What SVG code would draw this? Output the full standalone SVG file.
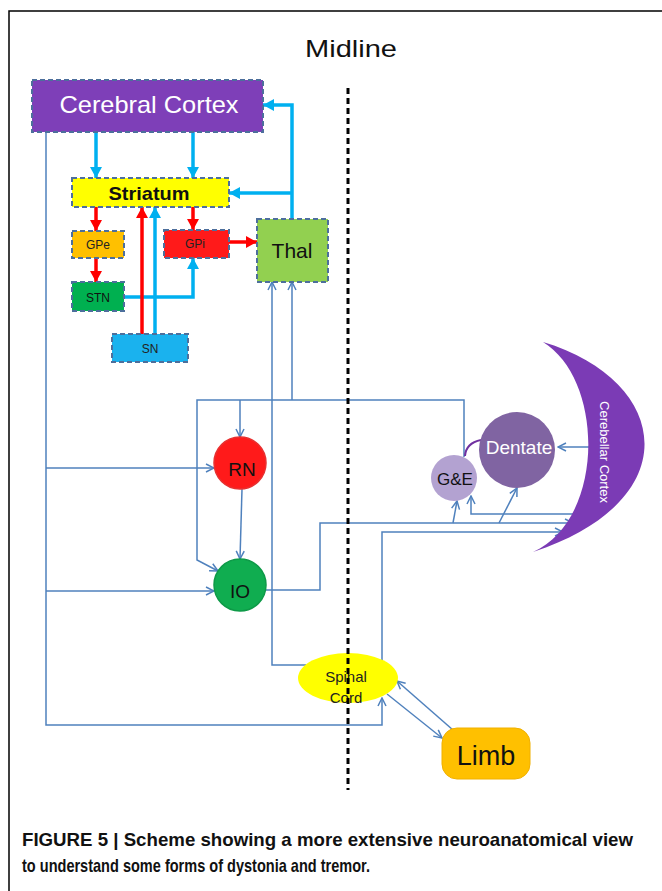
<svg xmlns="http://www.w3.org/2000/svg" width="662" height="891" viewBox="0 0 662 891">
<defs>
<style>
.box{stroke:#4d6f9c;stroke-width:2;stroke-dasharray:5 3}
.thin{fill:none;stroke:#4f81bd;stroke-width:1.5;marker-end:url(#ah)}
.cy{fill:none;stroke:#00b0f0;stroke-width:3.5;marker-end:url(#ac)}
.rd{fill:none;stroke:#ff0000;stroke-width:3.5;marker-end:url(#ar)}
.t{font-family:"Liberation Sans",Arial,sans-serif;text-anchor:middle}
</style>
<marker id="ah" markerUnits="userSpaceOnUse" markerWidth="10" markerHeight="10" viewBox="0 0 10 10" refX="9" refY="5" orient="auto">
<path d="M1,1 L9,5 L1,9" fill="none" stroke="#4f81bd" stroke-width="1.5"/>
</marker>
<marker id="ac" markerUnits="userSpaceOnUse" markerWidth="11" markerHeight="12" viewBox="0 0 11 12" refX="11" refY="6" orient="auto">
<path d="M0,0 L11,6 L0,12 z" fill="#00b0f0"/>
</marker>
<marker id="ar" markerUnits="userSpaceOnUse" markerWidth="11" markerHeight="12" viewBox="0 0 11 12" refX="11" refY="6" orient="auto">
<path d="M0,0 L11,6 L0,12 z" fill="#ff0000"/>
</marker>
</defs>
<rect x="0" y="0" width="662" height="891" fill="#ffffff"/>
<path d="M9,891 V11 H662" fill="none" stroke="#000" stroke-width="1.5"/>
<text class="t" x="351" y="57" font-size="24" textLength="92" lengthAdjust="spacingAndGlyphs" fill="#111">Midline</text>

<g id="connectors">
<path class="cy" d="M96,132 V178"/>
<path class="cy" d="M193,132 V178"/>
<path class="cy" d="M292,219 V105 H263"/>
<path class="cy" d="M292,193 H229"/>
<path class="cy" d="M124,297 H193 V258"/>
<path class="cy" d="M155,334 V207"/>
<path class="rd" d="M142,334 V207"/>
<path class="rd" d="M96,207 V231"/>
<path class="rd" d="M193,207 V230"/>
<path class="rd" d="M96,258 V282"/>
<path class="rd" d="M229,242 H257"/>
<path class="thin" d="M46,132 V725 H382 V698"/>
<path class="thin" d="M46,468 H214"/>
<path class="thin" d="M46,591 H214"/>
<path class="thin" d="M464,457 V400 H197 V560 L218,571"/>
<path class="thin" d="M240,400 V437"/>
<path class="thin" d="M292,400 V282"/>
<path class="thin" d="M306,665 H272 V282"/>
<path class="thin" d="M242,489 L240,559"/>
<path class="thin" d="M266,590 H320 V523 H573"/>
<path class="thin" d="M453,523 L457,501"/>
<path class="thin" d="M499,523 L517,488"/>
<path class="thin" d="M573,514 H471 V496"/>
<path class="thin" d="M382,661 V532 H563"/>
<path class="thin" d="M593,447 H558"/>
<path class="thin" d="M453,730 L397,681"/>
<path class="thin" d="M387,694 L442,738"/>
<path d="M465,456 Q466,443 481,440" fill="none" stroke="#7030a0" stroke-width="2"/>
</g>

<g id="cerebral-cortex">
<rect class="box" x="32" y="80" width="231" height="52" fill="#7e3fb8"/>
<text class="t" x="149" y="113" font-size="24" textLength="179" lengthAdjust="spacingAndGlyphs" fill="#fff">Cerebral Cortex</text>
</g>
<g id="striatum">
<rect class="box" x="72" y="178" width="157" height="29" fill="#ffff00"/>
<text class="t" x="149" y="200" font-size="19" font-weight="bold" textLength="81" lengthAdjust="spacingAndGlyphs" fill="#111">Striatum</text>
</g>
<g id="gpe">
<rect class="box" x="72" y="231" width="52" height="27" fill="#ffc000"/>
<text class="t" x="98" y="249" font-size="12" fill="#222">GPe</text>
</g>
<g id="gpi">
<rect class="box" x="164" y="230" width="65" height="28" fill="#ff1a1a"/>
<text class="t" x="195" y="248" font-size="12" fill="#222">GPi</text>
</g>
<g id="stn">
<rect class="box" x="72" y="282" width="52" height="29" fill="#00b050"/>
<text class="t" x="98" y="302" font-size="12" fill="#111">STN</text>
</g>
<g id="sn">
<rect class="box" x="112" y="334" width="76" height="28" fill="#1ab2ee"/>
<text class="t" x="150" y="353" font-size="12" fill="#222">SN</text>
</g>
<g id="thal">
<rect class="box" x="257" y="219" width="71" height="63" fill="#92d050"/>
<text class="t" x="292" y="258" font-size="21" fill="#111">Thal</text>
</g>
<g id="rn">
<circle cx="240" cy="463" r="26" fill="#ff1a1a" stroke="#e83030" stroke-width="1.5"/>
<text class="t" x="242" y="476" font-size="19" fill="#111">RN</text>
</g>
<g id="io">
<circle cx="240" cy="585" r="26" fill="#10ad50" stroke="#0e9a48" stroke-width="1.5"/>
<text class="t" x="240" y="598" font-size="19" fill="#111">IO</text>
</g>
<g id="ge">
<circle cx="454" cy="478" r="23" fill="#b3a2d1"/>
<text class="t" x="455" y="485" font-size="17" fill="#111">G&amp;E</text>
</g>
<g id="dentate">
<circle cx="517" cy="450" r="38" fill="#8064a2"/>
<text class="t" x="519" y="454" font-size="19" fill="#fff">Dentate</text>
</g>
<g id="cerebellar-cortex">
<path d="M543,342 C670,380 690,500 533,552 C605,520 605,380 543,342 Z" fill="#7b3bb5"/>
<text class="t" transform="translate(600,452) rotate(90)" font-size="13" fill="#fff">Cerebellar Cortex</text>
</g>
<g id="spinal-cord">
<ellipse cx="348" cy="678" rx="50" ry="25" fill="#ffff00"/>
<text class="t" x="346" y="682" font-size="15" fill="#222">Spinal</text>
<text class="t" x="346" y="703" font-size="15" fill="#222">Cord</text>
</g>
<g id="limb">
<rect x="442" y="728" width="88" height="51" rx="15" fill="#ffc000" stroke="#f0b000" stroke-width="1"/>
<text class="t" x="486" y="765" font-size="27" fill="#111">Limb</text>
</g>
<path id="midline" d="M348,88 V790" stroke="#000" stroke-width="3" stroke-dasharray="6 4" fill="none"/>
<g id="caption" font-family="'Liberation Sans',Arial,sans-serif" font-weight="bold" font-size="18.5" fill="#111">
<text x="22" y="846" textLength="611" lengthAdjust="spacingAndGlyphs">FIGURE 5 | Scheme showing a more extensive neuroanatomical view</text>
<text x="22" y="872" textLength="348" lengthAdjust="spacingAndGlyphs">to understand some forms of dystonia and tremor.</text>
</g>
</svg>
